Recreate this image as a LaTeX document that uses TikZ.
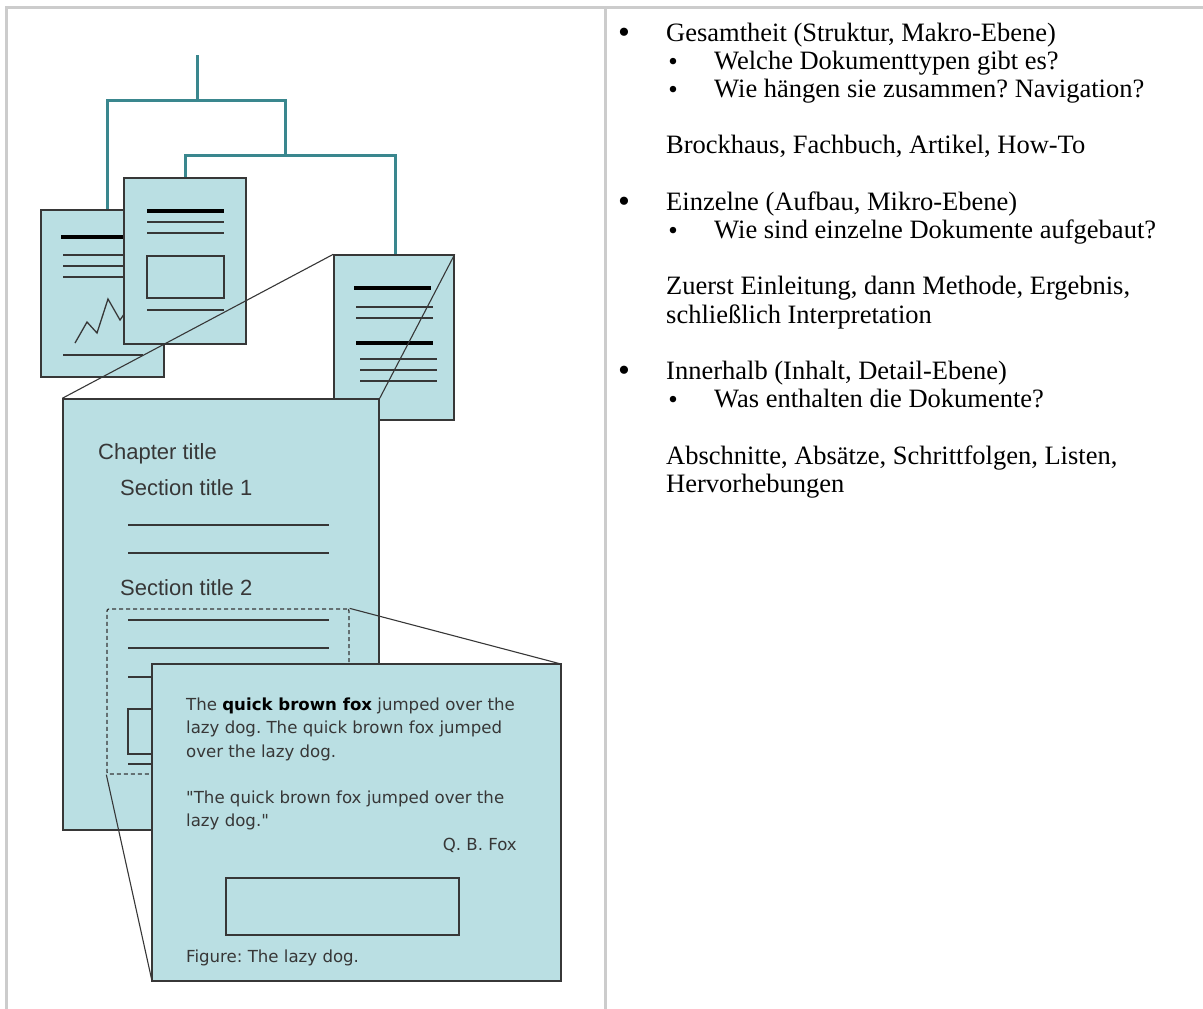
\documentclass[tikz,border=0pt]{standalone}
\usepackage{fontspec}
\setmainfont{Liberation Serif}
\newfontfamily\pagefont{Liberation Sans}
\newfontfamily\boxfont{DejaVu Sans}
\usetikzlibrary{positioning}
\definecolor{paper}{RGB}{186,223,227}
\definecolor{treeline}{RGB}{58,135,142}
\definecolor{ink}{RGB}{55,55,55}
\definecolor{framegrey}{RGB}{204,204,204}
\frenchspacing

\begin{document}
\begin{tikzpicture}[x=1pt,y=-1pt,
    frame/.style={framegrey,line width=3pt},
    tree/.style={treeline,line width=3pt},
    doc/.style={draw=ink,fill=paper,line width=1.4pt,inner sep=0pt},
    bar/.style={black,line width=4.5pt},
    rule/.style={ink,line width=1.3pt},
    zoomline/.style={ink,line width=1.1pt},
    pagetext/.style={anchor=base west,inner sep=0pt,text=ink,font=\pagefont\fontsize{22}{26}\selectfont},
    boxtext/.style={anchor=base west,inner sep=0pt,text=ink,font=\boxfont\fontsize{16.6}{20}\selectfont},
    item/.style={anchor=base west,inner sep=0pt,font=\fontsize{26.5}{28.2}\selectfont},
    mainbullet/.style={anchor=base,inner sep=0pt,font=\fontsize{34}{36}\selectfont},
    subbullet/.style={anchor=base,inner sep=0pt,font=\fontsize{27}{30}\selectfont}]
	\useasboundingbox (0,0) rectangle (1203,1009);
	\draw[frame] (6.5,1009) -- (6.5,7.5) -- (1203,7.5);
	\draw[frame] (605.5,7.5) -- (605.5,1009);

	\coordinate (root) at (197,55);
	\coordinate (busAL) at (107,100);
	\coordinate (busAR) at (285,100);
	\coordinate (busBL) at (185,155);
	\coordinate (busBR) at (395,155);

	\node[doc,minimum width=123,minimum height=167] (docA) at (102.5,293.5) {};
	\node[doc,minimum width=122,minimum height=166] (docB) at (185,261) {};
	\node[doc,minimum width=120,minimum height=165] (docC) at (394,337.5) {};
	\draw[tree] (root) -- (root |- busAL);
	\draw[tree] (docA.north -| busAL) -- (busAL) -- (busAR) -- (busAR |- busBL);
	\draw[tree] (docB.north -| busBL) -- (busBL) -- (busBR) -- (docC.north -| busBR);

	\node[doc,minimum width=123,minimum height=167] (docA) at (102.5,293.5) {};
	\draw[bar] (61,237) -- (143,237);
	\draw[rule] (63,255) -- (143,255);
	\draw[rule] (63,266) -- (143,266);
	\draw[rule] (63,277) -- (143,277);
	\draw[rule] (75,343) -- (87,322) -- (97,333) -- (108,299) -- (120,320) -- (132,303);
	\draw[rule] (63,355) -- (143,355);

	\node[doc,minimum width=122,minimum height=166] (docB) at (185,261) {};
	\draw[bar] (147,211) -- (224,211);
	\draw[rule] (147,222) -- (224,222);
	\draw[rule] (147,233) -- (224,233);
	\node[doc,fill=none,minimum width=77,minimum height=42] (picB) at (185.5,277) {};
	\draw[rule] (147,310) -- (224,310);

	\node[doc,minimum width=120,minimum height=165] (docC) at (394,337.5) {};
	\draw[bar] (354,288) -- (431,288);
	\draw[rule] (356,307) -- (433,307);
	\draw[rule] (356,318) -- (433,318);
	\draw[bar] (356,343) -- (433,343);
	\draw[rule] (360,359) -- (437,359);
	\draw[rule] (360,370) -- (437,370);
	\draw[rule] (360,381) -- (437,381);

	\node[doc,minimum width=316,minimum height=431] (page) at (221,614.5) {};
	\draw[zoomline] (docC.north west) -- (page.north west);
	\draw[zoomline] (docC.north east) -- (page.north east);
	\node[pagetext] (chapter) at (98,459) {Chapter title};
	\node[pagetext] (secA) at (120,495) {Section title 1};
	\draw[rule] (128,525) -- (329,525);
	\draw[rule] (128,553) -- (329,553);
	\node[pagetext] (secB) at (120,595) {Section title 2};
	\draw[rule] (128,620) -- (329,620);
	\draw[rule] (128,648) -- (329,648);
	\draw[rule] (128,677) -- (329,677);
	\node[doc,fill=none,minimum width=72,minimum height=45] (picP) at (164,731.5) {};
	\draw[rule] (128,764) -- (329,764);
	\node[draw=ink,line width=1.3pt,dash pattern=on 4pt off 3pt,rounded corners=2pt,
	      inner sep=0pt,minimum width=242,minimum height=165] (zoomsrc) at (228,691.5) {};

	\draw[zoomline] (zoomsrc.north east) -- (561,664) coordinate (detailNE);
	\draw[zoomline] (zoomsrc.south west) -- (152,981) coordinate (detailSW);
	\node[doc,minimum width=409,minimum height=317] (detail) at (356.5,822.5) {};
	\node[boxtext] (lineA) at (186,710) {The \textcolor{black}{\textbf{quick brown fox}} jumped over the};
	\node[boxtext] (lineB) at (186,733.5) {lazy dog. The quick brown fox jumped};
	\node[boxtext] (lineC) at (186,757) {over the lazy dog.};
	\node[boxtext] (quoteA) at (186,803) {"The quick brown fox jumped over the};
	\node[boxtext] (quoteB) at (186,826.5) {lazy dog."};
	\node[boxtext,anchor=base east] (author) at (517,850) {Q. B. Fox};
	\node[doc,fill=none,minimum width=233,minimum height=57] (figbox) at (342.5,906.5) {};
	\node[boxtext] (caption) at (186,962) {Figure: The lazy dog.};

	\node[mainbullet] (bA) at (624,41) {\raisebox{-2pt}{•}};
	\node[item] (tA) at (666,41) {Gesamtheit (Struktur, Makro-Ebene)};
	\node[subbullet] (bA1) at (673,69.2) {\raisebox{-1pt}{•}};
	\node[item] (tA1) at (714,69.2) {Welche Dokumenttypen gibt es?};
	\node[subbullet] (bA2) at (673,97.4) {\raisebox{-1pt}{•}};
	\node[item] (tA2) at (714,97.4) {Wie hängen sie zusammen? Navigation?};
	\node[item] (tA3) at (666,153.8) {Brockhaus, Fachbuch, Artikel, How-To};
	\node[mainbullet] (bB) at (624,210.2) {\raisebox{-2pt}{•}};
	\node[item] (tB) at (666,210.2) {Einzelne (Aufbau, Mikro-Ebene)};
	\node[subbullet] (bB1) at (673,238.4) {\raisebox{-1pt}{•}};
	\node[item] (tB1) at (714,238.4) {Wie sind einzelne Dokumente aufgebaut?};
	\node[item] (tB2) at (666,294.8) {Zuerst Einleitung, dann Methode, Ergebnis,};
	\node[item] (tB3) at (666,323) {schließlich Interpretation};
	\node[mainbullet] (bC) at (624,379.4) {\raisebox{-2pt}{•}};
	\node[item] (tC) at (666,379.4) {Innerhalb (Inhalt, Detail-Ebene)};
	\node[subbullet] (bC1) at (673,407.6) {\raisebox{-1pt}{•}};
	\node[item] (tC1) at (714,407.6) {Was enthalten die Dokumente?};
	\node[item] (tC2) at (666,464) {Abschnitte, Absätze, Schrittfolgen, Listen,};
	\node[item] (tC3) at (666,492.2) {Hervorhebungen};
\end{tikzpicture}
\end{document}
